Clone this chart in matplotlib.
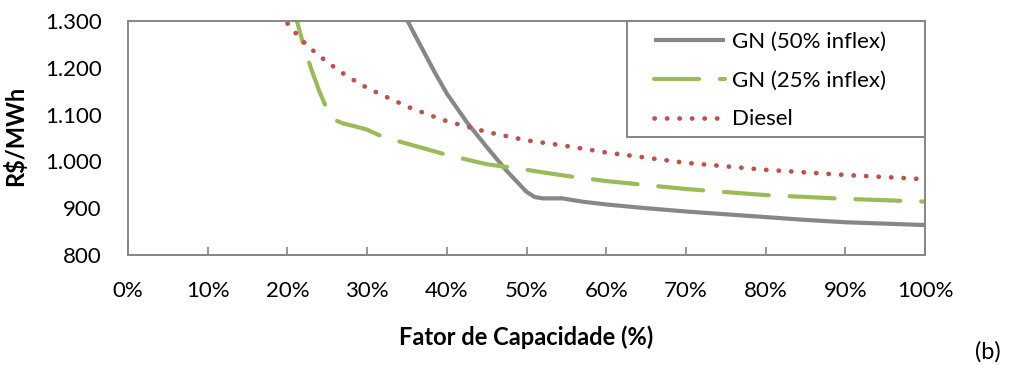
import matplotlib
matplotlib.use("Agg")
import matplotlib.pyplot as plt
from matplotlib.patches import Rectangle
from matplotlib.ticker import FuncFormatter

plt.rcParams['font.family'] = ['Lato', 'DejaVu Sans']

# fator de capacidade (%) e custo (R$/MWh)
fc_gn50 = [34.0, 35.0, 36.0, 37.0, 38.5, 40.0, 42.5, 45.0, 47.5, 50.0, 51.0, 52.0,
           54.5, 57.0, 60.0, 65.0, 70.0, 75.0, 80.0, 85.0, 90.0, 95.0, 100.0]
gn50 = [1335, 1303, 1270, 1238, 1190, 1145, 1084, 1031, 980, 935, 924, 921,
        921, 914, 908, 900, 893, 887, 881, 875, 870, 867, 864]

fc_gn25 = [20.0, 21.0, 22.0, 23.0, 24.0, 25.0, 26.0, 27.0, 28.0, 30.0, 32.0,
           35.0, 40.0, 45.0, 50.0, 55.0, 60.0, 70.0, 80.0, 90.0, 100.0]
gn25 = [1390, 1312, 1250, 1197, 1150, 1110, 1088, 1081, 1077, 1068, 1052,
        1038, 1014, 994, 982, 969, 958, 941, 928, 920, 914]

fc_diesel = [19.0, 20.0, 21.0, 22.0, 23.0, 25.0, 27.5, 30.0, 33.0, 35.5, 38.5,
             40.0, 45.0, 50.0, 55.0, 60.0, 70.0, 80.0, 90.0, 100.0]
diesel = [1315, 1295, 1275, 1256, 1240, 1212, 1182, 1157, 1133, 1114, 1095,
          1086, 1063, 1045, 1033, 1019, 997, 982, 971, 962]

x_ticks = [0, 10, 20, 30, 40, 50, 60, 70, 80, 90, 100]
y_ticks = [800, 900, 1000, 1100, 1200, 1300]

fig = plt.figure(figsize=(10.09, 3.65), dpi=100)
ax = fig.add_axes([128 / 1009, 1 - 255 / 365, (925 - 128) / 1009, (255 - 21) / 365])

ax.plot(fc_gn50, gn50, color='#878787', lw=3.0, solid_capstyle='butt',
        label='GN (50% inflex)')
ax.plot(fc_gn25, gn25, color='#9BBB59', lw=3.0, dashes=(10.8, 5.0),
        dash_capstyle='round', label='GN (25% inflex)')
ax.plot(fc_diesel, diesel, color='#C0504D', lw=3.4, dashes=(0.05, 2.6),
        dash_capstyle='round', label='Diesel')

ax.set_xlim(0, 100)
ax.set_ylim(800, 1300)
ax.set_xticks(x_ticks)
ax.set_yticks(y_ticks)
ax.xaxis.set_major_formatter(FuncFormatter(lambda v, p: f"{int(v)}%"))
ax.yaxis.set_major_formatter(FuncFormatter(lambda v, p: f"{int(v):,}".replace(",", ".")))

for s in ax.spines.values():
    s.set_color('#868686')
    s.set_linewidth(1.4)

ax.tick_params(axis='x', direction='in', length=6, width=1.2, color='#868686',
               labelsize=16, pad=19)
ax.tick_params(axis='y', length=0, labelsize=16, pad=19)

ax.set_ylabel('R$/MWh', fontsize=17, fontweight='bold')
ax.yaxis.set_label_coords(-0.127, 0.51)
ax.set_xlabel('Fator de Capacidade (%)', fontsize=17, fontweight='bold', labelpad=17)

# moldura da legenda
ax.add_patch(Rectangle((0.626, 0.504), 0.374, 0.496, transform=ax.transAxes,
                       facecolor='white', edgecolor='#868686', lw=1.4,
                       zorder=5, clip_on=False))
leg = ax.legend(loc='upper left', bbox_to_anchor=(0.660, 0.955), borderaxespad=0,
                fontsize=16, handlelength=3.2, handletextpad=0.3,
                labelspacing=0.85, borderpad=0, frameon=False)
leg.set_zorder(6)

fig.text(988 / 1009, 1 - 352 / 365, '(b)', fontsize=17, ha='center', va='center')

fig.savefig('out.png', dpi=100)
